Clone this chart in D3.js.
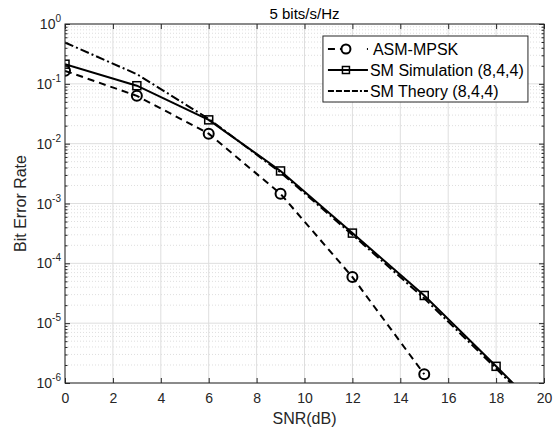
<!DOCTYPE html>
<html>
<head>
<meta charset="utf-8">
<script src="https://cdn.jsdelivr.net/npm/d3@7"></script>
<style>
  body { margin: 0; background: #fff; }
  text { font-family: "Liberation Sans", Arial, sans-serif; fill: #262626; }
</style>
</head>
<body>
<div id="chart"></div>
<script>
// data
var snr        = [0, 3, 6, 9, 12, 15, 18, 21];
var asmBer     = [0.165, 0.063, 0.0147, 0.00145, 5.9e-5, 1.4e-6];
var simBer     = [0.213, 0.093, 0.025, 0.0035, 3.2e-4, 2.9e-5, 1.9e-6, 1.2e-7];
var theoryBer  = [0.49, 0.145, 0.026, 0.0033, 3.0e-4, 2.6e-5, 1.75e-6, 1.1e-7];
var xTicks     = [0, 2, 4, 6, 8, 10, 12, 14, 16, 18, 20];
var yExponents = [0, -1, -2, -3, -4, -5, -6];
var seriesNames = ["ASM-MPSK", "SM Simulation (8,4,4)", "SM Theory (8,4,4)"];

var margin = {top: 24, right: 12, bottom: 47, left: 65};
var W = 556, H = 430;
var width = W - margin.left - margin.right,
    height = H - margin.top - margin.bottom;

var svg = d3.select("#chart").append("svg")
  .attr("width", W)
  .attr("height", H);

var g = svg.append("g")
  .attr("transform", "translate(" + margin.left + "," + margin.top + ")");

var x = d3.scaleLinear().domain([0, 20]).range([0, width]);
var y = d3.scaleLog().domain([1e-6, 1]).range([height, 0]);

// minor values for log grid
var minorVals = [];
for (var e = -6; e < 0; e++) {
  for (var m = 2; m <= 9; m++) minorVals.push(m * Math.pow(10, e));
}

// minor grid (dotted)
g.selectAll("line.minor").data(minorVals).enter().append("line")
  .attr("class", "minor")
  .attr("x1", 0).attr("x2", width)
  .attr("y1", function(d){ return y(d); })
  .attr("y2", function(d){ return y(d); })
  .attr("stroke", "#d6d6d6")
  .attr("stroke-width", 0.8)
  .attr("stroke-dasharray", "1,2");

// major grid
g.selectAll("line.xgrid").data(xTicks).enter().append("line")
  .attr("class", "xgrid")
  .attr("x1", function(d){ return x(d); })
  .attr("x2", function(d){ return x(d); })
  .attr("y1", 0).attr("y2", height)
  .attr("stroke", "#dedede").attr("stroke-width", 1);

g.selectAll("line.ygrid").data(yExponents).enter().append("line")
  .attr("class", "ygrid")
  .attr("x1", 0).attr("x2", width)
  .attr("y1", function(d){ return y(Math.pow(10, d)); })
  .attr("y2", function(d){ return y(Math.pow(10, d)); })
  .attr("stroke", "#dedede").attr("stroke-width", 1);

// clip for data lines
svg.append("defs").append("clipPath").attr("id", "clip")
  .append("rect").attr("x", 0).attr("y", 0).attr("width", width).attr("height", height);

var plot = g.append("g").attr("clip-path", "url(#clip)");

var line = d3.line()
  .x(function(d){ return x(d[0]); })
  .y(function(d){ return y(d[1]); });

var asmPts = asmBer.map(function(v, i){ return [snr[i], v]; });
var simPts = simBer.map(function(v, i){ return [snr[i], v]; });
var thPts  = theoryBer.map(function(v, i){ return [snr[i], v]; });

var dashed = "7,5";
var dashDot = "9,3,2,3";

plot.append("path").attr("d", line(thPts))
  .attr("fill", "none").attr("stroke", "#000").attr("stroke-width", 2)
  .attr("stroke-dasharray", dashDot);

plot.append("path").attr("d", line(simPts))
  .attr("fill", "none").attr("stroke", "#000").attr("stroke-width", 2);

plot.append("path").attr("d", line(asmPts))
  .attr("fill", "none").attr("stroke", "#000").attr("stroke-width", 2)
  .attr("stroke-dasharray", dashed);

// markers
plot.selectAll("rect.sq").data(simPts).enter().append("rect")
  .attr("class", "sq")
  .attr("x", function(d){ return x(d[0]) - 4; })
  .attr("y", function(d){ return y(d[1]) - 4; })
  .attr("width", 8).attr("height", 8)
  .attr("fill", "none").attr("stroke", "#000").attr("stroke-width", 1.5);

plot.selectAll("circle.ci").data(asmPts).enter().append("circle")
  .attr("class", "ci")
  .attr("cx", function(d){ return x(d[0]); })
  .attr("cy", function(d){ return y(d[1]); })
  .attr("r", 5)
  .attr("fill", "none").attr("stroke", "#000").attr("stroke-width", 2);

// axes box and ticks
var axisColor = "#262626";
g.append("rect")
  .attr("width", width).attr("height", height)
  .attr("fill", "none").attr("stroke", axisColor).attr("stroke-width", 1);

var xAxisB = d3.axisBottom(x).tickValues(xTicks).tickSize(-5).tickPadding(10);
var xAxisT = d3.axisTop(x).tickValues(xTicks).tickSize(-5).tickFormat("");
g.append("g").attr("class", "xb").attr("transform", "translate(0," + height + ")").call(xAxisB);
g.append("g").attr("class", "xt").call(xAxisT);

var yMajor = yExponents.map(function(e){ return Math.pow(10, e); });
var yAxisL = d3.axisLeft(y).tickValues(yMajor).tickSize(-5).tickFormat("");
var yAxisR = d3.axisRight(y).tickValues(yMajor).tickSize(-5).tickFormat("");
var yMinL = d3.axisLeft(y).tickValues(minorVals).tickSize(-2.5).tickFormat("");
var yMinR = d3.axisRight(y).tickValues(minorVals).tickSize(-2.5).tickFormat("");
g.append("g").call(yAxisL);
g.append("g").call(yMinL);
g.append("g").attr("transform", "translate(" + width + ",0)").call(yAxisR);
g.append("g").attr("transform", "translate(" + width + ",0)").call(yMinR);

g.selectAll(".domain").remove();
g.selectAll(".tick line").attr("stroke", axisColor);
g.selectAll(".xb text").style("font-size", "14px").style("font-family", "'Liberation Sans', Arial, sans-serif").attr("fill", axisColor);

// y tick labels as 10^e
var yl = g.selectAll("text.ylab").data(yExponents).enter().append("text")
  .attr("class", "ylab")
  .attr("x", -4)
  .attr("y", function(d){ return y(Math.pow(10, d)) + 5; })
  .attr("text-anchor", "end")
  .style("font-size", "14px");
yl.append("tspan").text("10");
yl.append("tspan").attr("dy", -7).style("font-size", "10px")
  .text(function(d){ return String(d); });

// title and axis labels
g.append("text").attr("x", width / 2).attr("y", -5)
  .attr("text-anchor", "middle").style("font-size", "15px").style("fill", "#000")
  .text("5 bits/s/Hz");

g.append("text").attr("x", width / 2).attr("y", height + 41)
  .attr("text-anchor", "middle").style("font-size", "16px")
  .text("SNR(dB)");

g.append("text")
  .attr("transform", "translate(" + (-39) + "," + (height / 2) + ") rotate(-90)")
  .attr("text-anchor", "middle").style("font-size", "16px")
  .text("Bit Error Rate");

// legend
var lg = g.append("g").attr("transform", "translate(" + (x(10.77)) + "," + 12 + ")");
lg.append("rect").attr("width", 205).attr("height", 66)
  .attr("fill", "#fff").attr("stroke", axisColor).attr("stroke-width", 1);

var rowY = [13, 34, 55];
seriesNames.forEach(function(name, i){
  var row = lg.append("g").attr("transform", "translate(0," + rowY[i] + ")");
  var ln = row.append("line").attr("x1", 5).attr("x2", 45).attr("y1", 0).attr("y2", 0)
    .attr("stroke", "#000").attr("stroke-width", 2);
  if (i === 0) ln.attr("stroke-dasharray", "7,5,7,5,0,15,1.5,5");
  if (i === 2) ln.attr("stroke-dasharray", "6,2,6,2,6,2,6,2,2,2");
  if (i === 0) {
    row.append("circle").attr("cx", 23).attr("cy", 0).attr("r", 4.5)
      .attr("fill", "#fff").attr("stroke", "#000").attr("stroke-width", 2);
  }
  if (i === 1) {
    row.append("rect").attr("x", 19.5).attr("y", -3.5).attr("width", 7).attr("height", 7)
      .attr("fill", "none").attr("stroke", "#000").attr("stroke-width", 1.5);
  }
  row.append("text").attr("x", i === 0 ? 50 : 47).attr("y", 6)
    .style("font-size", "16px").style("fill", "#000")
    .text(name);
});
</script>
</body>
</html>
